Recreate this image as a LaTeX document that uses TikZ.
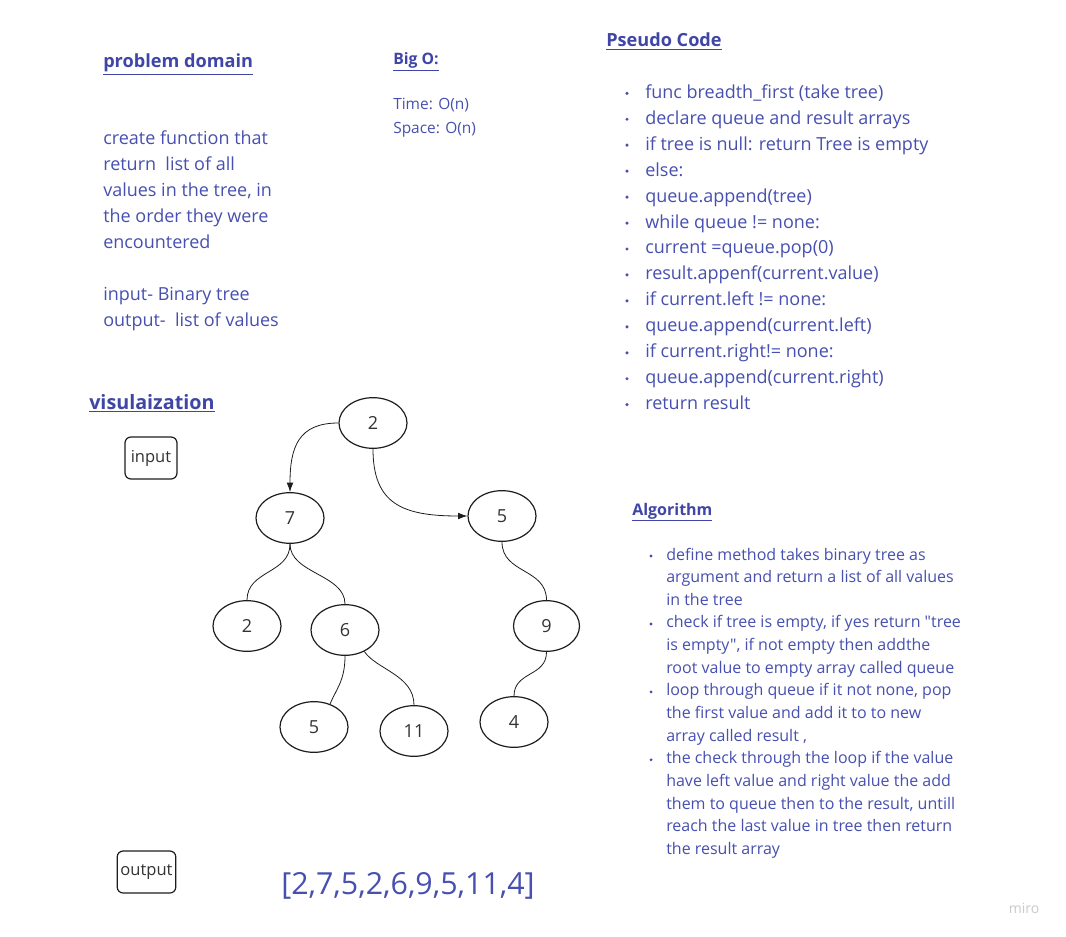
\documentclass[tikz,border=0pt]{standalone}
\usepackage{fontspec}
\setmainfont{Open Sans}[Ligatures=TeXOff]
\usetikzlibrary{shapes.geometric,arrows.meta,calc}
\definecolor{txtblue}{HTML}{4750B0}
\definecolor{ttlblue}{HTML}{3F46A6}
\definecolor{ink}{HTML}{1E1E1E}
\definecolor{lbl}{HTML}{333333}
\definecolor{wm}{HTML}{C9C9CF}
\newcommand{\fpx}[2]{\fontsize{#1}{#2}\selectfont}
\begin{document}
\begin{tikzpicture}[x=0.75pt,y=-0.75pt,
  txt/.style={inner sep=0pt, anchor=base west, text=txtblue},
  ttl/.style={inner sep=0pt, anchor=base west, text=ttlblue},
  body/.style={txt, font=\fpx{13.5}{19.5}},
  small/.style={txt, font=\fpx{12}{17}},
  bigo/.style={txt, font=\fpx{11.6}{18}},
  tnode/.style={ellipse, draw=ink, line width=0.9pt, minimum width=51pt, minimum height=38pt, inner sep=0pt, text=lbl, font=\fpx{13.5}{16}},
  iobox/.style={draw=ink, line width=0.9pt, rounded corners=4.5pt, inner sep=0pt, minimum height=31.5pt, text=lbl, font=\fpx{12.4}{15}},
  edge/.style={draw=ink, line width=0.6pt},
  arr/.style={edge, -{Latex[length=7pt,width=5pt]}},
  bul/.style={fill=txtblue}
]
\useasboundingbox (0,0) rectangle (1066,937);
\fill[white] (0,0) rectangle (1066,937);

% ---------- titles ----------
\node[ttl, font=\bfseries\fpx{13.6}{16}] (tpd) at (103,68) {\underline{problem domain}};
\node[ttl, font=\bfseries\fpx{11.8}{14}] (tbo) at (393,65) {\underline{Big O:}};
\node[ttl, font=\bfseries\fpx{13.6}{16}] (tpc) at (606,47) {\underline{Pseudo Code}};
\node[ttl, font=\bfseries\fpx{14.8}{18}] (tvi) at (89,409) {\underline{visulaization}};
\node[ttl, font=\bfseries\fpx{12}{14}] (tal) at (632,515) {\underline{Algorithm}};

% ---------- problem domain ----------
\foreach \t/\yy [count=\i] in {{create function that}/145, {return~ list of all}/171, {values in the tree, in}/197, {the order they were}/223, {encountered}/249, {input- Binary tree}/301, {output-~ list of values}/327}
  \node[body] (pd\i) at (103,\yy) {\t};

% ---------- Big O ----------
\node[bigo] (bo1) at (393,110) {Time: O(n)};
\node[bigo] (bo2) at (393,134) {Space: O(n)};

% ---------- pseudo code ----------
\foreach \t [count=\i] in {{func breadth\_first (take tree)}, {declare queue and result arrays}, {if tree is null: return Tree is empty}, {else:}, {queue.append(tree)}, {while queue != none:}, {current =queue.pop(0)}, {result.appenf(current.value)}, {if current.left != none:}, {queue.append(current.left)}, {if current.right!= none:}, {queue.append(current.right)}, {return result}}
{
  \node[body] (pc\i) at (645,{98.3+25.95*(\i-1)}) {\t};
  \fill[bul] (627,{93.3+25.95*(\i-1)}) circle (1.3pt);
}

% ---------- algorithm ----------
\foreach \t [count=\i] in {{define method takes binary tree as}, {argument and return a list of all values}, {in the tree}, {check if tree is empty, if yes return "tree}, {is empty", if not empty then addthe}, {root value to empty array called queue}, {loop through queue if it not none, pop}, {the first value and add it to to new}, {array called result ,}, {the check through the loop if the value}, {have left value and right value the add}, {them to queue then to the result, untill}, {reach the last value in tree then return}, {the result array}}
  \node[small] (al\i) at (666,{560+22.65*(\i-1)}) {\t};
\foreach \k in {0,3,6,9}
  \fill[bul] (651,{556+22.65*\k}) circle (1.2pt);

% ---------- input / output boxes ----------
\node[iobox, minimum width=39pt] (inp) at (151,458) {input};
\node[iobox, minimum width=44pt] (outp) at (146.5,872) {output};
\node[txt, font=\fpx{22.8}{26}] (res) at (281,894) {[2,7,5,2,6,9,5,11,4]};

% ---------- tree ----------
\node[tnode] (r)   at (373,423) {2};
\node[tnode] (a7)  at (290,518) {7};
\node[tnode] (b5)  at (502,516) {5};
\node[tnode] (c2)  at (247,626) {2};
\node[tnode] (c6)  at (345,630) {6};
\node[tnode, minimum width=49.5pt] (c9) at (546.5,626) {9};
\node[tnode] (d5)  at (314,727) {5};
\node[tnode] (d11) at (414,731) {11};
\node[tnode] (d4)  at (514,722) {4};

\draw[arr] (r.west) .. controls ($(r.west)+(-40,0)$) and ($(a7.north)+(0,-45)$) .. (a7.north);
\draw[arr] (r.south) .. controls ($(r.south)+(0,55)$) and ($(b5.west)+(-65,0)$) .. (b5.west);
\draw[edge] (a7.south) .. controls ($(a7.south)+(0,30)$) and ($(c2.north)+(0,-30)$) .. (c2.north);
\draw[edge] (a7.south) .. controls ($(a7.south)+(0,30)$) and ($(c6.north)+(0,-30)$) .. (c6.north);
\draw[edge] (c6.south) .. controls ($(c6.south)+(0,25)$) and ($(d5.55)+(6,-15)$) .. (d5.55);
\draw[edge] (c6.-48) .. controls ($(c6.-48)+(12,18)$) and ($(d11.north)+(0,-30)$) .. (d11.north);
\draw[edge] (b5.south) .. controls ($(b5.south)+(0,32)$) and ($(c9.north)+(0,-32)$) .. (c9.north);
\draw[edge] (c9.south) .. controls ($(c9.south)+(0,25)$) and ($(d4.north)+(0,-25)$) .. (d4.north);

% ---------- watermark ----------
\node[inner sep=0pt, text=wm, font=\fpx{10.5}{12}] (miro) at (1024,908) {miro};
\end{tikzpicture}
\end{document}
